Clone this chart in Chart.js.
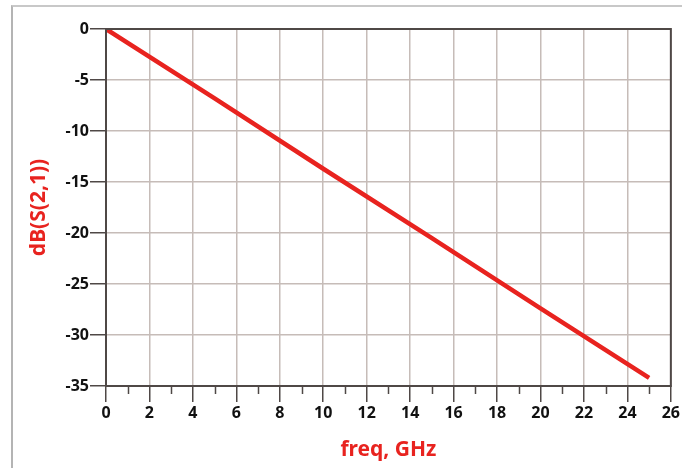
<!DOCTYPE html>
<html>
<head>
<meta charset="utf-8">
<script src="https://cdn.jsdelivr.net/npm/chart.js@4"></script>
<style>
  body { margin: 0; background: #fff; }
  #wrap { position: relative; width: 682px; height: 468px; }
  #frame { position: absolute; left: 11px; top: 5px; right: 0; bottom: 0;
           border-left: 2px solid #b4b4b4; border-top: 2px solid #c8c8c8; }
  canvas { position: absolute; left: 0; top: 0; }
</style>
</head>
<body>
<div id="wrap">
  <div id="frame"></div>
  <canvas id="s21Chart" width="682" height="468"></canvas>
</div>
<script>
// values
const freqGHz = [0, 5, 10, 15, 20, 25];
const s21dB = [0, -6.8, -13.7, -20.5, -27.4, -34.2];
const xTicks = [0, 2, 4, 6, 8, 10, 12, 14, 16, 18, 20, 22, 24, 26];
const xMinorTicks = [1, 3, 5, 7, 9, 11, 13, 15, 17, 19, 21, 23, 25];
const yTicks = [0, -5, -10, -15, -20, -25, -30, -35];

const axisDark = "#4f4846";
const gridGray = "#c6bcb8";
const red = "#e8231f";

// box round the plot area + short minor ticks under the x axis
const framePlugin = {
  id: "framePlugin",
  afterDraw(chart) {
    const ctx = chart.ctx;
    const a = chart.chartArea;
    const xs = chart.scales.x;
    ctx.save();
    ctx.strokeStyle = axisDark;
    ctx.lineWidth = 2;
    ctx.strokeRect(a.left, a.top, a.right - a.left, a.bottom - a.top);
    ctx.lineWidth = 1.5;
    xMinorTicks.forEach(v => {
      const px = Math.round(xs.getPixelForValue(v)) + 0.5;
      ctx.beginPath();
      ctx.moveTo(px, a.bottom);
      ctx.lineTo(px, a.bottom + 8);
      ctx.stroke();
    });
    ctx.restore();
  }
};

const tickFont = { family: "'Noto Sans'", size: 16, weight: "bold" };
const titleFont = { family: "'Noto Sans'", size: 21, weight: "bold" };

const data = {
  datasets: [
    {
      label: "dB(S(2,1))",
      data: freqGHz.map((f, i) => ({ x: f, y: s21dB[i] })),
      borderColor: red,
      borderWidth: 4.5,
      pointRadius: 0,
      fill: false,
      tension: 0,
    },
  ],
};

const config = {
  type: "line",
  data: data,
  plugins: [framePlugin],
  options: {
    responsive: false,
    animation: false,
    layout: { padding: { top: 29, right: 9, left: 0, bottom: 0 } },
    plugins: { legend: { display: false }, tooltip: { enabled: false } },
    scales: {
      x: {
        type: "linear",
        min: 0,
        max: 26,
        afterBuildTicks: (s) => { s.ticks = xTicks.map(v => ({ value: v })); },
        afterFit: (s) => { s.height = 82; },
        ticks: { color: "#111", font: tickFont, padding: 2, maxRotation: 0 },
        grid: { color: gridGray, lineWidth: 1.5, tickLength: 16, tickColor: axisDark, tickWidth: 1.5 },
        border: { color: axisDark, width: 2 },
        title: { display: true, text: "freq, GHz", color: red, font: titleFont, padding: { top: 0, bottom: 5 } },
      },
      y: {
        type: "linear",
        min: -35,
        max: 0,
        afterBuildTicks: (s) => { s.ticks = yTicks.map(v => ({ value: v })); },
        afterFit: (s) => { s.width = 106; },
        ticks: { color: "#111", font: tickFont, padding: 1 },
        grid: { color: gridGray, lineWidth: 1.5, tickLength: 16, tickColor: axisDark, tickWidth: 1.5 },
        border: { color: axisDark, width: 2 },
        title: { display: true, text: "dB(S(2,1))", color: red, font: titleFont, padding: { top: 26, bottom: 0 } },
      },
    },
  },
};

const myChart = new Chart(document.getElementById("s21Chart"), config);
</script>
</body>
</html>
